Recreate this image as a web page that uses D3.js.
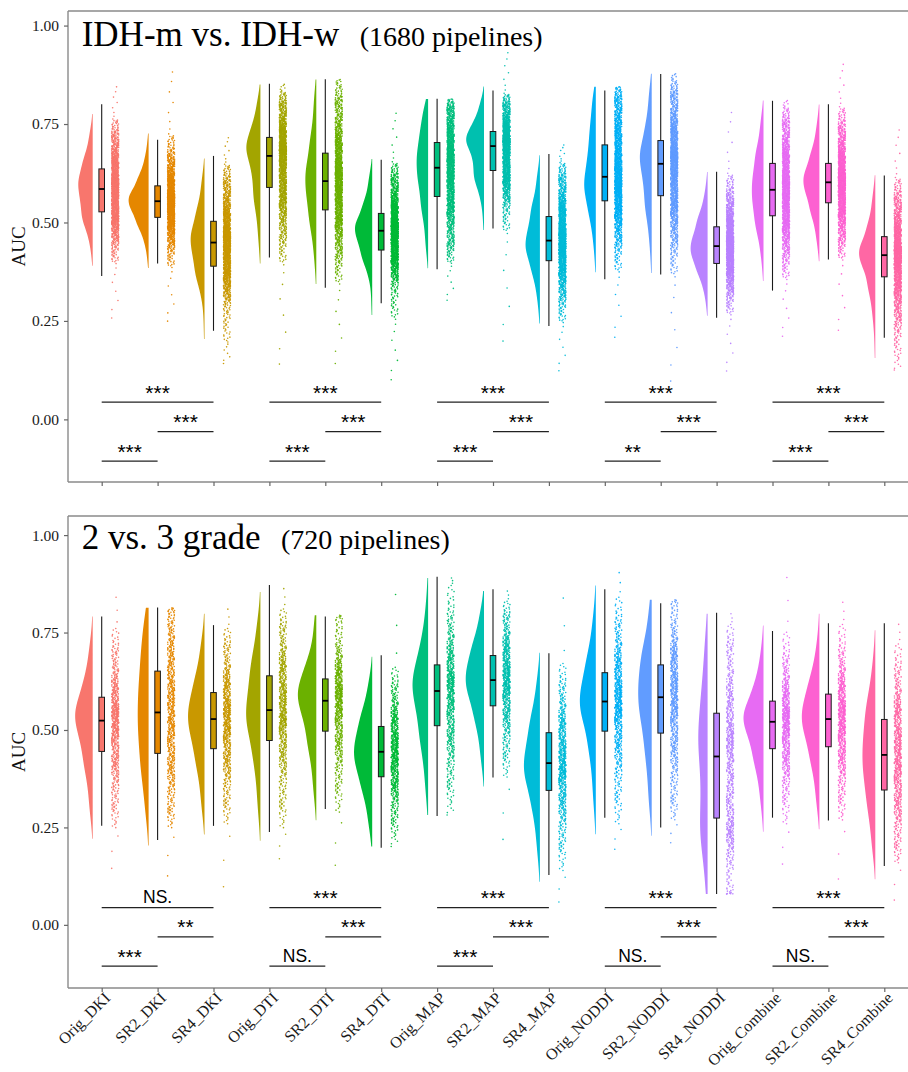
<!DOCTYPE html>
<html>
<head>
<meta charset="utf-8">
<script src="https://cdn.jsdelivr.net/npm/d3@7"></script>
<style>
  html, body { margin: 0; padding: 0; background: #ffffff; }
  svg { display: block; }
</style>
</head>
<body>
<script>
// ---------------- DATA ----------------
const categories = ["Orig_DKI","SR2_DKI","SR4_DKI","Orig_DTI","SR2_DTI","SR4_DTI",
  "Orig_MAP","SR2_MAP","SR4_MAP","Orig_NODDI","SR2_NODDI","SR4_NODDI",
  "Orig_Combine","SR2_Combine","SR4_Combine"];
const colors = ["#F8766D","#E58700","#C99800","#A3A500","#6BB100","#00BA38","#00BF7D",
  "#00C0AF","#00BCD8","#00B0F6","#619CFF","#B983FF","#E76BF3","#FD61D1","#FF67A4"];

// probabilities of the quantiles listed per category (min ... max)
const quantileProbs = [0, 0.005, 0.05, 0.25, 0.5, 0.75, 0.95, 0.995, 1];

// Panel 1: IDH-m vs. IDH-w (1680 pipelines per method)
const idhQuantiles = [
  [0.248, 0.40, 0.46, 0.527, 0.585, 0.636, 0.71, 0.76, 0.85],
  [0.240, 0.39, 0.45, 0.513, 0.554, 0.593, 0.66, 0.72, 0.893],
  [0.138, 0.20, 0.31, 0.389, 0.449, 0.503, 0.59, 0.645, 0.72],
  [0.123, 0.40, 0.48, 0.589, 0.669, 0.716, 0.79, 0.83, 0.852],
  [0.128, 0.35, 0.43, 0.532, 0.605, 0.676, 0.79, 0.850, 0.864],
  [0.090, 0.26, 0.36, 0.430, 0.479, 0.523, 0.60, 0.65, 0.786],
  [0.296, 0.40, 0.46, 0.566, 0.639, 0.703, 0.78, 0.808, 0.814],
  [0.180, 0.48, 0.56, 0.632, 0.694, 0.731, 0.79, 0.825, 0.938],
  [0.115, 0.25, 0.32, 0.403, 0.454, 0.515, 0.60, 0.65, 0.70],
  [0.197, 0.38, 0.46, 0.555, 0.616, 0.697, 0.80, 0.838, 0.845],
  [0.079, 0.37, 0.46, 0.568, 0.649, 0.708, 0.81, 0.860, 0.879],
  [0.113, 0.27, 0.33, 0.396, 0.440, 0.489, 0.56, 0.62, 0.79],
  [0.201, 0.36, 0.43, 0.517, 0.583, 0.650, 0.74, 0.79, 0.811],
  [0.214, 0.41, 0.47, 0.550, 0.602, 0.650, 0.73, 0.79, 0.909],
  [0.123, 0.16, 0.26, 0.362, 0.417, 0.464, 0.55, 0.61, 0.743]
];
const idhWhiskers = [
  [0.364, 0.800],[0.396, 0.710],[0.225, 0.669],[0.411, 0.852],[0.334, 0.864],
  [0.295, 0.659],[0.381, 0.814],[0.485, 0.835],[0.237, 0.674],[0.356, 0.835],
  [0.368, 0.877],[0.258, 0.629],[0.327, 0.809],[0.406, 0.800],[0.207, 0.619]
];
// Panel 2: 2 vs. 3 grade (720 pipelines per method)
const gradeQuantiles = [
  [0.126, 0.25, 0.32, 0.445, 0.524, 0.584, 0.69, 0.76, 0.855],
  [0.103, 0.25, 0.31, 0.440, 0.545, 0.651, 0.77, 0.81, 0.814],
  [0.068, 0.26, 0.33, 0.452, 0.528, 0.596, 0.70, 0.76, 0.819],
  [0.155, 0.25, 0.33, 0.473, 0.551, 0.639, 0.75, 0.81, 0.872],
  [0.128, 0.29, 0.37, 0.497, 0.575, 0.631, 0.72, 0.79, 0.795],
  [0.198, 0.22, 0.28, 0.380, 0.444, 0.509, 0.60, 0.66, 0.882],
  [0.279, 0.30, 0.38, 0.511, 0.600, 0.667, 0.78, 0.87, 0.893],
  [0.190, 0.38, 0.45, 0.562, 0.628, 0.691, 0.78, 0.83, 0.861],
  [0.044, 0.14, 0.22, 0.345, 0.415, 0.493, 0.60, 0.67, 0.869],
  [0.182, 0.26, 0.35, 0.497, 0.573, 0.647, 0.76, 0.84, 0.915],
  [0.200, 0.27, 0.34, 0.492, 0.584, 0.667, 0.77, 0.83, 0.835],
  [0.079, 0.08, 0.15, 0.274, 0.432, 0.543, 0.70, 0.77, 0.803],
  [0.137, 0.26, 0.34, 0.452, 0.521, 0.574, 0.67, 0.75, 0.917],
  [0.090, 0.27, 0.34, 0.457, 0.528, 0.592, 0.69, 0.77, 0.838],
  [0.046, 0.16, 0.22, 0.346, 0.436, 0.527, 0.64, 0.72, 0.780]
];
const gradeWhiskers = [
  [0.254, 0.791],[0.218, 0.814],[0.254, 0.769],[0.238, 0.872],[0.297, 0.791],
  [0.198, 0.692],[0.279, 0.893],[0.378, 0.861],[0.128, 0.697],[0.275, 0.861],
  [0.250, 0.825],[0.079, 0.801],[0.275, 0.754],[0.268, 0.774],[0.151, 0.774]
];

const yTicks = [0, 0.25, 0.5, 0.75, 1];
// significance per method group: [Orig vs SR4, SR2 vs SR4, Orig vs SR2]
const idhSignif = [["***","***","***"],["***","***","***"],["***","***","***"],["***","***","**"],["***","***","***"]];
const gradeSignif = [["NS.","**","***"],["***","***","NS."],["***","***","***"],["***","***","NS."],["***","***","NS."]];
const bracketLevels = [0.044, -0.031, -0.106];
const panelTitles = ["IDH-m vs. IDH-w", "2 vs. 3 grade"];
const pipelineCounts = [1680, 720];

// ---------------- LAYOUT ----------------
const W = 908, H = 1072;
const serif = "'Times New Roman', 'Liberation Serif', serif";
const sans = "Arial, 'Liberation Sans', sans-serif";
const svg = d3.select("body").append("svg").attr("width", W).attr("height", H);

const x = d3.scalePoint().domain(categories).range([101.7, 884.3]);
const frameLeft = 68;

const panels = [
  { title: panelTitles[0], n: pipelineCounts[0], q: idhQuantiles, wh: idhWhiskers, sig: idhSignif,
    top: 11, bottom: 482, domain: [-0.159, 1.037], titleY: 46, showX: false },
  { title: panelTitles[1], n: pipelineCounts[1], q: gradeQuantiles, wh: gradeWhiskers, sig: gradeSignif,
    top: 516, bottom: 988, domain: [-0.162, 1.049], titleY: 549, showX: true }
];

// monotone (Steffen) interpolation of the quantile function
function quantileFunction(qs) {
  const xs = quantileProbs, ys = qs, n = xs.length;
  const h = [], s = [];
  for (let i = 0; i < n - 1; i++) { h[i] = xs[i + 1] - xs[i]; s[i] = (ys[i + 1] - ys[i]) / h[i]; }
  const m = new Array(n);
  m[0] = s[0]; m[n - 1] = s[n - 2];
  for (let i = 1; i < n - 1; i++) {
    const p = (s[i - 1] * h[i] + s[i] * h[i - 1]) / (h[i - 1] + h[i]);
    m[i] = (Math.sign(s[i - 1]) + Math.sign(s[i])) *
      Math.min(Math.abs(s[i - 1]), Math.abs(s[i]), 0.5 * Math.abs(p));
  }
  return function (p) {
    let i = 0;
    while (i < n - 2 && p > xs[i + 1]) i++;
    const t = (p - xs[i]) / h[i], t2 = t * t, t3 = t2 * t;
    return (2 * t3 - 3 * t2 + 1) * ys[i] + (t3 - 2 * t2 + t) * h[i] * m[i] +
      (-2 * t3 + 3 * t2) * ys[i + 1] + (t3 - t2) * h[i] * m[i + 1];
  };
}

function kde(sample, grid, bw) {
  const c = 1 / (sample.length * bw * Math.sqrt(2 * Math.PI));
  return grid.map(v => {
    let sum = 0;
    for (const s of sample) { const z = (v - s) / bw; sum += Math.exp(-0.5 * z * z); }
    return sum * c;
  });
}

panels.forEach(P => {
  const g = svg.append("g");
  const y = d3.scaleLinear().domain(P.domain).range([P.bottom, P.top]);

  // frame
  const frameColor = "#8a8a8a";
  g.append("line").attr("x1", frameLeft).attr("x2", W).attr("y1", P.top).attr("y2", P.top)
    .attr("stroke", frameColor).attr("stroke-width", 1.4);
  g.append("line").attr("x1", frameLeft).attr("x2", W).attr("y1", P.bottom).attr("y2", P.bottom)
    .attr("stroke", frameColor).attr("stroke-width", 1.4);
  g.append("line").attr("x1", frameLeft).attr("x2", frameLeft).attr("y1", P.top).attr("y2", P.bottom)
    .attr("stroke", frameColor).attr("stroke-width", 1.4);

  // y axis
  const ya = g.append("g").attr("transform", `translate(${frameLeft},0)`)
    .call(d3.axisLeft(y).tickValues(yTicks).tickFormat(d3.format(".2f")).tickSize(4).tickPadding(5));
  ya.select(".domain").remove();
  ya.selectAll(".tick line").attr("stroke", "#666").attr("stroke-width", 1.2);
  ya.selectAll(".tick text").attr("fill", "#1a1a1a").style("font-family", serif).style("font-size", "15.5px");

  // x axis
  const xa = g.append("g").attr("transform", `translate(0,${P.bottom})`)
    .call(d3.axisBottom(x).tickSize(4));
  xa.select(".domain").remove();
  xa.selectAll(".tick line").attr("stroke", "#666").attr("stroke-width", 1.2);
  if (P.showX) {
    xa.selectAll(".tick text")
      .attr("x", 0).attr("y", 0).attr("dy", null)
      .attr("transform", "translate(9,11) rotate(-45)")
      .style("text-anchor", "end")
      .attr("fill", "#1a1a1a").style("font-family", serif).style("font-size", "16px");
  } else {
    xa.selectAll(".tick text").remove();
  }

  // y label
  g.append("text").attr("transform", `translate(25,${(P.top + P.bottom) / 2}) rotate(-90)`)
    .attr("text-anchor", "middle").style("font-family", serif).style("font-size", "19px")
    .attr("fill", "#111").text("AUC");

  // title
  const t = g.append("text").attr("x", 81.7).attr("y", P.titleY).style("font-family", serif).attr("fill", "#000");
  t.append("tspan").style("font-size", "35px").text(P.title);
  t.append("tspan").attr("dx", 20.5).style("font-size", "28px").text(`(${P.n} pipelines)`);

  // build samples and densities
  const cats = categories.map((c, i) => {
    const qf = quantileFunction(P.q[i]);
    const sample = d3.range(P.n).map(k => qf((k + 0.5) / P.n));
    const sd = d3.deviation(sample);
    const iqr = P.q[i][5] - P.q[i][3];
    const bw = 0.9 * Math.min(sd, iqr / 1.34) * Math.pow(P.n, -0.2) * 1.3;
    const lo = d3.min(sample), hi = d3.max(sample);
    const grid = d3.range(240).map(k => lo + (hi - lo) * k / 239);
    const dens = kde(sample, grid, bw);
    return { c, i, sample, grid, dens };
  });
  const maxD = d3.max(cats, d => d3.max(d.dens));
  const maxW = 20;
  const wScale = d3.scaleLinear().domain([0, maxD]).range([0, maxW]);

  cats.forEach(d => {
    const cx = x(d.c), col = colors[d.i];
    const flat = cx - 9;
    // half violin (visible where the density is not negligible)
    const idx = d3.range(d.grid.length).filter(k => wScale(d.dens[k]) >= 0.5);
    const area = d3.area()
      .y(k => y(d.grid[k]))
      .x0(k => flat - wScale(d.dens[k]))
      .x1(flat)
      .curve(d3.curveLinear);
    g.append("path").datum(idx).attr("d", area).attr("fill", col);

    // jittered points (deterministic spread)
    g.append("g").selectAll("circle").data(d.sample).join("circle")
      .attr("cx", (v, k) => cx + 10 + ((k * 0.6180339887 + k * k * 0.4142135624) % 1) * 7)
      .attr("cy", v => y(v))
      .attr("r", 0.8)
      .attr("fill", col)
      .attr("fill-opacity", 0.95);

    // boxplot
    const q = P.q[d.i], wh = P.wh[d.i];
    g.append("line").attr("x1", cx).attr("x2", cx).attr("y1", y(wh[0])).attr("y2", y(wh[1]))
      .attr("stroke", "#1a1a1a").attr("stroke-width", 1.1);
    g.append("rect").attr("x", cx - 2.8).attr("width", 5.6)
      .attr("y", y(q[5])).attr("height", y(q[3]) - y(q[5]))
      .attr("fill", col).attr("stroke", "#1a1a1a").attr("stroke-width", 1);
    g.append("line").attr("x1", cx - 2.8).attr("x2", cx + 2.8).attr("y1", y(q[4])).attr("y2", y(q[4]))
      .attr("stroke", "#000").attr("stroke-width", 1.8);
  });

  // significance brackets
  P.sig.forEach((labels, gi) => {
    const a = x(categories[gi * 3]), b = x(categories[gi * 3 + 1]), c = x(categories[gi * 3 + 2]);
    const spans = [[a, c], [b, c], [a, b]];
    spans.forEach((sp, li) => {
      const yy = y(bracketLevels[li]);
      const isNS = labels[li] === "NS.";
      g.append("line").attr("x1", sp[0]).attr("x2", sp[1]).attr("y1", yy).attr("y2", yy)
        .attr("stroke", "#222").attr("stroke-width", 1.3);
      g.append("text").attr("x", (sp[0] + sp[1]) / 2).attr("y", isNS ? yy - 4.4 : yy - 2.5)
        .attr("text-anchor", "middle").style("font-family", sans)
        .style("font-size", isNS ? "17.5px" : "21px")
        .attr("fill", "#000").text(labels[li]);
    });
  });
});
</script>
</body>
</html>
